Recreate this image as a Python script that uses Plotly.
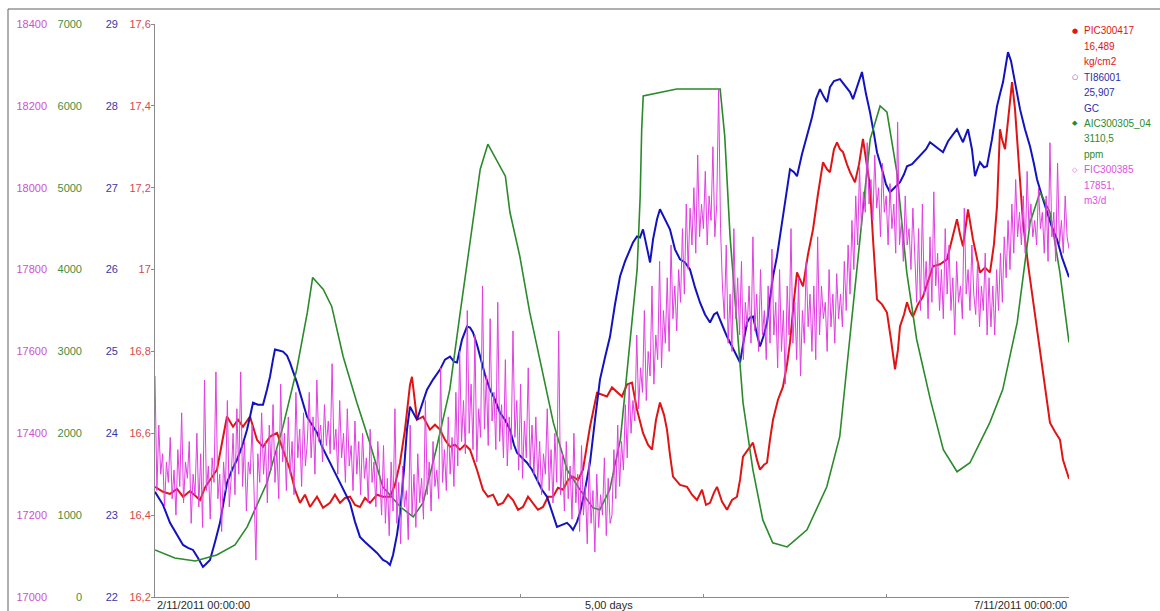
import numpy as np
import pandas as pd
import plotly.graph_objects as go

START = pd.Timestamp("2011-11-02 00:00:00")
END = pd.Timestamp("2011-11-07 00:00:00")

# ---------------- data (hours from 2/11/2011 00:00) ----------------
red_hours = [0, 1.05, 1.97, 2.89, 3.68, 4.6, 5.91, 6.56, 7.22, 8.14,
             8.8, 9.45, 10.24, 10.9, 11.55, 12.47, 13.39, 14.18, 15.1, 16.02,
             16.8, 17.72, 18.38, 19.04, 19.69, 20.35, 21.27, 22.06, 22.98, 23.63,
             24.29, 24.94, 25.6, 26.26, 26.91, 27.57, 28.23, 29.15, 29.93, 30.85,
             31.5, 32.17, 32.82, 33.48, 33.74, 34.4, 35.19, 36.1, 36.76, 37.42,
             38.07, 38.73, 39.39, 40.04, 40.7, 41.36, 42.27, 43.06, 43.72, 44.38,
             45.03, 45.69, 46.35, 47.0, 47.66, 48.31, 48.97, 49.63, 50.28, 50.94,
             51.6, 52.25, 52.91, 53.57, 54.22, 54.88, 55.54, 56.19, 56.72, 57.11,
             58.03, 58.82, 59.34, 60.0, 60.65, 61.31, 61.97, 62.62, 63.28, 64.07,
             64.72, 65.25, 65.78, 66.3, 66.83, 67.22, 67.61, 68.01, 68.93, 69.85,
             70.5, 71.16, 71.82, 72.34, 72.87, 73.39, 73.79, 74.44, 75.1, 75.76,
             76.41, 76.81, 77.2, 77.86, 78.51, 79.04, 79.43, 79.96, 80.35, 80.74,
             81.14, 81.79, 82.45, 82.98, 83.37, 83.9, 84.29, 84.68, 85.08, 85.73,
             86.39, 87.04, 87.7, 88.23, 88.62, 89.14, 89.54, 89.93, 90.33, 90.85,
             91.25, 91.9, 92.43, 92.95, 93.35, 93.87, 94.27, 94.79, 95.45, 96.1,
             96.63, 97.16, 97.55, 97.81, 98.34, 98.73, 99.12, 99.52, 100.17, 100.83,
             101.49, 102.14, 103.06, 103.98, 104.64, 105.29, 105.69, 106.08, 106.48, 106.74,
             107.39, 107.92, 108.31, 108.97, 109.63, 110.15, 110.55, 110.94, 111.2, 111.6,
             112.12, 112.52, 112.91, 113.17, 113.57, 113.96, 114.62, 115.27, 115.93, 116.59,
             117.11, 117.5, 118.16, 118.82, 119.21, 119.61, 120]
red_values = [16.469, 16.457, 16.452, 16.464, 16.445, 16.459, 16.437, 16.467, 16.486, 16.511,
              16.577, 16.641, 16.616, 16.633, 16.616, 16.641, 16.584, 16.567, 16.592, 16.601,
              16.56, 16.511, 16.462, 16.43, 16.45, 16.42, 16.445, 16.418, 16.43, 16.45,
              16.43, 16.442, 16.445, 16.425, 16.42, 16.442, 16.43, 16.45, 16.445, 16.445,
              16.474, 16.528, 16.609, 16.719, 16.738, 16.633, 16.641, 16.609, 16.621, 16.609,
              16.584, 16.567, 16.572, 16.56, 16.572, 16.56, 16.511, 16.462, 16.445, 16.45,
              16.425, 16.43, 16.45, 16.437, 16.413, 16.42, 16.445, 16.43, 16.413, 16.42,
              16.445, 16.445, 16.467, 16.462, 16.486, 16.494, 16.486, 16.511, 16.572, 16.616,
              16.699, 16.694, 16.69, 16.712, 16.702, 16.69, 16.719, 16.724, 16.658, 16.601,
              16.572, 16.56, 16.633, 16.675, 16.645, 16.609, 16.548, 16.494, 16.474, 16.469,
              16.45, 16.437, 16.462, 16.425, 16.43, 16.455, 16.469, 16.433, 16.413, 16.437,
              16.445, 16.486, 16.543, 16.56, 16.577, 16.535, 16.511, 16.523, 16.528, 16.584,
              16.633, 16.682, 16.714, 16.768, 16.822, 16.927, 16.993, 16.976, 16.959, 17.037,
              17.098, 17.184, 17.262, 17.245, 17.238, 17.294, 17.311, 17.294, 17.287, 17.257,
              17.238, 17.213, 17.257, 17.319, 17.27, 17.204, 17.074, 16.927, 16.915, 16.895,
              16.829, 16.756, 16.805, 16.861, 16.89, 16.92, 16.898, 16.885, 16.915, 16.934,
              16.971, 17.008, 17.013, 17.025, 17.074, 17.123, 17.086, 17.057, 17.111, 17.147,
              17.074, 17.03, 16.993, 17.005, 16.993, 17.062, 17.155, 17.343, 17.319, 17.294,
              17.392, 17.458, 17.392, 17.319, 17.221, 17.115, 17.013, 16.927, 16.829, 16.748,
              16.682, 16.626, 16.604, 16.584, 16.535, 16.511, 16.489]

blue_hours = [0, 1.05, 1.97, 2.89, 3.68, 4.33, 4.99, 5.65, 6.3, 6.83,
              7.22, 7.88, 8.53, 9.06, 9.45, 10.11, 10.77, 11.42, 12.08, 12.47,
              12.87, 13.52, 14.18, 14.7, 15.1, 15.49, 15.75, 16.28, 16.8, 17.33,
              17.72, 18.64, 19.3, 19.96, 20.61, 21.27, 21.93, 22.58, 23.37, 24.29,
              24.94, 25.6, 26.26, 26.91, 27.57, 28.23, 29.15, 29.93, 30.46, 30.85,
              31.25, 31.77, 32.17, 32.69, 33.08, 33.48, 34.01, 34.4, 35.05, 35.71,
              36.5, 37.42, 38.07, 38.73, 39.26, 39.65, 40.31, 40.96, 41.36, 41.75,
              42.27, 42.67, 43.32, 43.98, 44.64, 45.29, 45.95, 46.61, 47.13, 47.53,
              48.18, 48.84, 49.5, 50.15, 50.81, 51.47, 52.12, 52.78, 53.44, 54.09,
              54.49, 54.88, 55.4, 55.8, 56.45, 57.11, 57.77, 58.42, 59.08, 59.74,
              60.39, 61.05, 61.71, 62.36, 62.76, 63.28, 63.68, 64.07, 64.59, 65.0,
              65.39, 65.91, 66.3, 66.96, 67.61, 68.27, 68.93, 69.58, 70.24, 70.9,
              71.55, 72.21, 72.87, 73.39, 73.79, 74.44, 75.1, 75.76, 76.41, 76.81,
              77.2, 77.73, 78.12, 78.51, 79.04, 79.43, 79.96, 80.35, 80.74, 81.14,
              81.66, 82.05, 82.71, 83.37, 83.9, 84.29, 84.94, 85.6, 86.26, 86.78,
              87.3, 87.83, 88.23, 88.62, 89.14, 89.93, 90.59, 91.25, 91.64, 92.17,
              92.82, 93.35, 93.87, 94.4, 94.79, 95.45, 95.97, 96.5, 97.16, 97.81,
              98.34, 98.73, 99.39, 100.04, 100.7, 101.23, 101.75, 102.54, 103.46, 104.12,
              104.77, 105.29, 105.69, 106.08, 106.48, 106.74, 107.26, 107.66, 108.05, 108.31,
              108.84, 109.23, 109.89, 110.55, 110.94, 111.34, 111.73, 111.99, 112.39, 112.65,
              113.17, 113.57, 114.22, 114.88, 115.41, 115.8, 116.46, 117.11, 117.77, 118.43,
              119.08, 120]
blue_values = [23.285, 23.126, 22.906, 22.759, 22.636, 22.6, 22.575, 22.477, 22.367, 22.416,
               22.453, 22.673, 22.906, 23.187, 23.395, 23.554, 23.677, 23.836, 24.044, 24.203,
               24.374, 24.35, 24.35, 24.533, 24.692, 24.9, 25.023, 25.011, 24.998, 24.949,
               24.864, 24.619, 24.411, 24.203, 24.105, 24.007, 23.836, 23.713, 23.554, 23.395,
               23.273, 23.15, 22.918, 22.734, 22.673, 22.612, 22.538, 22.453, 22.428, 22.392,
               22.514, 22.759, 23.028, 23.554, 24.044, 24.325, 24.227, 24.166, 24.35, 24.533,
               24.656, 24.778, 24.9, 24.937, 24.876, 24.864, 25.145, 25.304, 25.292, 25.231,
               25.084, 24.937, 24.717, 24.533, 24.411, 24.252, 24.166, 24.044, 23.86, 23.762,
               23.701, 23.64, 23.554, 23.432, 23.31, 23.224, 23.04, 22.857, 22.881, 22.906,
               22.869, 22.82, 22.918, 23.028, 23.309, 23.64, 24.166, 24.656, 24.925, 25.182,
               25.573, 25.916, 26.1, 26.247, 26.332, 26.406, 26.393, 26.491, 26.271, 26.087,
               26.369, 26.614, 26.736, 26.614, 26.491, 26.247, 26.124, 26.087, 26.002, 25.782,
               25.598, 25.451, 25.353, 25.451, 25.476, 25.329, 25.182, 25.06, 24.937, 24.864,
               25.084, 25.353, 25.414, 25.427, 25.206, 25.06, 25.206, 25.353, 25.635, 25.916,
               26.161, 26.406, 26.858, 27.226, 27.189, 27.14, 27.409, 27.63, 27.862, 28.082,
               28.205, 28.107, 28.046, 28.229, 28.303, 28.327, 28.254, 28.168, 28.082, 28.229,
               28.413, 28.144, 27.923, 27.654, 27.434, 27.226, 27.042, 26.944, 27.006, 27.067,
               27.164, 27.262, 27.287, 27.348, 27.409, 27.47, 27.556, 27.495, 27.434, 27.568,
               27.654, 27.715, 27.63, 27.556, 27.654, 27.715, 27.47, 27.14, 27.25, 27.311,
               27.25, 27.262, 27.593, 27.997, 28.144, 28.29, 28.511, 28.657, 28.547, 28.413,
               28.144, 27.96, 27.715, 27.507, 27.287, 27.103, 26.895, 26.699, 26.516, 26.369,
               26.149, 25.907]

green_hours = [0, 2.6, 5.3, 8.1, 10.5, 12.1, 14.7, 16.8, 18.6, 20.0,
               20.7, 22.1, 23.2, 24.7, 26.5, 28.2, 29.9, 32.2, 33.9, 35.2,
               37.0, 38.7, 40.0, 41.4, 42.7, 43.7, 44.6, 46.0, 46.6, 47.0,
               47.9, 49.2, 50.6, 52.3, 54.1, 55.8, 57.5, 58.4, 59.7, 61.1,
               62.0, 63.3, 63.7, 63.9, 64.1, 68.5, 74.2, 74.8, 75.5, 75.9,
               76.4, 77.2, 78.5, 79.8, 81.1, 83.0, 85.6, 88.2, 89.9, 91.2,
               93.0, 93.9, 95.2, 96.1, 97.4, 98.7, 100.0, 101.8, 103.5, 105.3,
               107.0, 109.6, 111.3, 113.2, 114.9, 116.2, 117.5, 118.8, 120]
green_values = [575, 477, 440, 514, 636, 857, 1395, 2081, 2778, 3476,
                3904, 3758, 3550, 2938, 2375, 1885, 1346, 1102, 979, 1151,
                1836, 2534, 3427, 4370, 5226, 5532, 5386, 5141, 4700, 4529,
                4162, 3476, 2864, 2130, 1554, 1310, 1089, 1065, 1310, 1922,
                2778, 4002, 4896, 5716, 6120, 6206, 6206, 5630, 4406, 3917,
                3268, 2375, 1554, 942, 661, 612, 820, 1346, 1958, 3146,
                4774, 5594, 5998, 5924, 5190, 3966, 3146, 2411, 1799, 1530,
                1640, 2130, 2534, 3354, 4578, 4945, 4700, 3966, 3110.5]

magenta_hours = list(np.arange(0, 120.01, 0.25))
magenta_values = [
    17540, 17260, 17420, 17300, 17350, 17220, 17330, 17280, 17390, 17240,
    17310, 17200, 17360, 17270, 17450, 17230, 17330, 17290, 17380, 17180,
    17300, 17250, 17400, 17220, 17350, 17170, 17530, 17260, 17320, 17190,
    17340, 17280, 17550, 17240, 17300, 17160, 17330, 17260, 17480, 17220,
    17290, 17400, 17250, 17460, 17300, 17550, 17270, 17380, 17210, 17330,
    17300, 17420, 17260, 17090, 17350, 17280, 17450, 17300, 17380, 17230,
    17420, 17310, 17470, 17280, 17360, 17240, 17520, 17330, 17400, 17260,
    17440, 17300, 17380, 17250, 17500, 17340, 17410, 17270, 17450, 17320,
    17380, 17500, 17340, 17440, 17300, 17530, 17380, 17420, 17330, 17470,
    17370, 17430, 17350, 17570, 17360, 17410, 17300, 17480, 17340, 17400,
    17280, 17460, 17320, 17370, 17260, 17430, 17300, 17380, 17250, 17400,
    17290, 17340, 17230, 17410, 17280, 17330, 17220, 17380, 17300, 17200,
    17370, 17180, 17290, 17150, 17330, 17210, 17460, 17180, 17280, 17130,
    17320, 17220, 17260, 17140, 17420, 17200, 17300, 17170, 17350, 17230,
    17290, 17190, 17480, 17250, 17330, 17210, 17380, 17270, 17310, 17240,
    17560, 17280, 17360, 17260, 17440, 17300, 17390, 17270, 17500, 17320,
    17600, 17380, 17480, 17350, 17700, 17400, 17520, 17360, 17640, 17330,
    17460, 17390, 17760, 17410, 17540, 17370, 17680, 17430, 17500, 17360,
    17720, 17380, 17470, 17340, 17580, 17320, 17440, 17360, 17650, 17390,
    17480, 17310, 17520, 17290, 17430, 17340, 17560, 17320, 17420, 17300,
    17440, 17280, 17380, 17250, 17350, 17300, 17460, 17260, 17360, 17230,
    17400, 17280, 17650, 17250, 17350, 17210, 17380, 17240, 17320, 17190,
    17400, 17230, 17300, 17160, 17370, 17200, 17270, 17130, 17330, 17180,
    17260, 17110, 17300, 17170, 17250, 17200, 17340, 17150, 17290, 17180,
    17200, 17360, 17240, 17420, 17270, 17380, 17310, 17470, 17340, 17520,
    17400, 17480, 17430, 17640, 17460, 17560, 17500, 17700, 17480, 17600,
    17540, 17760, 17520, 17640, 17580, 17820, 17560, 17700, 17620, 17780,
    17600, 17860, 17680, 17760, 17650, 17800, 17720, 17900, 17740, 17960,
    17800, 17950, 17860, 18000, 17840, 18080, 17880, 17960, 17900, 18040,
    17860, 17980, 17920, 18100, 17880, 17960, 18240, 17900, 17760, 17680,
    17860, 17620, 17740, 17600, 17900, 17680, 17780, 17640, 17820, 17580,
    17720, 17660, 17760, 17620, 17880, 17650, 17740, 17600, 17800, 17640,
    17700, 17580, 17760, 17620, 17850, 17640, 17720, 17560, 17800, 17600,
    17700, 17520, 17760, 17640, 17900, 17620, 17720, 17580, 17780, 17540,
    17700, 17620, 17820, 17660, 17740, 17600, 17760, 17580, 17880, 17640,
    17760, 17680, 17720, 17600, 17800, 17660, 17740, 17620, 17790, 17680,
    17740, 17660, 17820, 17700, 17860, 17740, 17920, 17800, 17980, 17860,
    18050, 17900, 17990, 17940, 18110, 17960, 18020, 17920, 18080, 17950,
    18000, 17880, 18060, 17940, 17980, 17860, 18010, 17900, 17960, 17840,
    18160, 17860, 17920, 17820, 17980, 17860, 17900, 17800, 17950, 17840,
    17720, 17900, 17700, 17960, 17740, 17820, 17680, 17880, 17720, 17990,
    17760, 17840, 17700, 17800, 17680, 17900, 17740, 17860, 17700, 17780,
    17640, 17820, 17720, 17760, 17680, 17950, 17740, 17800, 17700, 17860,
    17740, 17690, 17820, 17660, 17760, 17700, 17840, 17640, 17780, 17660,
    17760, 17640, 17800, 17700, 17840, 17720, 17880, 17780, 17920, 17800,
    17960, 17840, 18020, 17880, 17940, 17860, 17980, 17840, 18040, 17900,
    17960, 17880, 17920, 17860, 18000, 17900, 17940, 17840, 17980, 17820,
    18110, 17880, 17940, 17820, 18060, 17860, 17920, 17840, 17980, 17880,
    17851]

# axis ticks
red_tick_vals = [16.2, 16.4, 16.6, 16.8, 17.0, 17.2, 17.4, 17.6]
red_tick_text = ["16,2", "16,4", "16,6", "16,8", "17", "17,2", "17,4", "17,6"]
blue_tick_vals = [22, 23, 24, 25, 26, 27, 28, 29]
blue_tick_text = ["22", "23", "24", "25", "26", "27", "28", "29"]
green_tick_vals = [0, 1000, 2000, 3000, 4000, 5000, 6000, 7000]
green_tick_text = ["0", "1000", "2000", "3000", "4000", "5000", "6000", "7000"]
magenta_tick_vals = [17000, 17200, 17400, 17600, 17800, 18000, 18200, 18400]
magenta_tick_text = ["17000", "17200", "17400", "17600", "17800", "18000", "18200", "18400"]

# legend text
legend_names = ["PIC300417", "TI86001", "AIC300305_04", "FIC300385"]
legend_values = ["16,489", "25,907", "3110,5", "17851,"]
legend_units = ["kg/cm2", "GC", "ppm", "m3/d"]
legend_symbols = ["●", "○", "◆", "◇"]

x_labels = ["2/11/2011 00:00:00", "5,00 days", "7/11/2011 00:00:00"]

assert len(red_hours) == len(red_values), (len(red_hours), len(red_values))
assert len(blue_hours) == len(blue_values), (len(blue_hours), len(blue_values))
assert len(green_hours) == len(green_values), (len(green_hours), len(green_values))
assert len(magenta_hours) == len(magenta_values), (len(magenta_hours), len(magenta_values))

RED = "#e01414"
BLUE = "#1212c0"
GREEN = "#2b8a2b"
MAGENTA = "#e23ee2"


def to_time(hours):
    return START + pd.to_timedelta(np.asarray(hours, dtype=float), unit="h")


fig = go.Figure()
fig.add_trace(go.Scatter(x=to_time(magenta_hours), y=magenta_values, yaxis="y4", mode="lines",
                         line=dict(color=MAGENTA, width=1), name=legend_names[3]))
fig.add_trace(go.Scatter(x=to_time(green_hours), y=green_values, yaxis="y3", mode="lines",
                         line=dict(color=GREEN, width=1.6), name=legend_names[2]))
fig.add_trace(go.Scatter(x=to_time(blue_hours), y=blue_values, yaxis="y2", mode="lines",
                         line=dict(color=BLUE, width=2), name=legend_names[1]))
fig.add_trace(go.Scatter(x=to_time(red_hours), y=red_values, yaxis="y", mode="lines",
                         line=dict(color=RED, width=2), name=legend_names[0]))

L, R, T, B = 155, 91, 24, 14
W, H = 1160, 611
PW, PH = W - L - R, H - T - B


def px_x(px):
    return (px - L) / PW


def px_y(py):
    return (H - B - py) / PH


tickfont = dict(family="Liberation Sans, Arial, sans-serif", size=11)
common_free = dict(overlaying="y", anchor="free", position=0, side="left", showline=False,
                   ticks="", showgrid=False, zeroline=False, automargin=False)

fig.update_layout(
    width=W, height=H,
    margin=dict(l=L, r=R, t=T, b=B, pad=0),
    paper_bgcolor="white", plot_bgcolor="white",
    showlegend=False,
    font=dict(family="Liberation Sans, Arial, sans-serif", size=11, color="#333"),
    xaxis=dict(range=[START, END], showgrid=False, zeroline=False, showline=True,
               linecolor="#8a8a8a", linewidth=1, ticks="inside", ticklen=3, tickcolor="#8a8a8a",
               tick0=START, dtick=86400000, showticklabels=False, automargin=False),
    yaxis=dict(range=[16.2, 17.6], tickvals=red_tick_vals, ticktext=red_tick_text,
               showline=True, linecolor="#8a8a8a", linewidth=1, ticks="outside", ticklen=3,
               tickcolor="#8a8a8a", showgrid=False, zeroline=False, automargin=False,
               tickfont=dict(tickfont, color="#d44a4a"), ticklabelstandoff=-2),
    yaxis2=dict(common_free, range=[22, 29], tickvals=blue_tick_vals, ticktext=blue_tick_text,
                tickfont=dict(tickfont, color="#3838a8"), ticklabelstandoff=37),
    yaxis3=dict(common_free, range=[0, 7000], tickvals=green_tick_vals, ticktext=green_tick_text,
                tickfont=dict(tickfont, color="#3f8f3f"), ticklabelstandoff=73),
    yaxis4=dict(common_free, range=[17000, 18400], tickvals=magenta_tick_vals,
                ticktext=magenta_tick_text,
                tickfont=dict(tickfont, color="#d050d0"), ticklabelstandoff=108),
)

# outer frame (top & left border of the original picture)
fig.add_shape(type="line", xref="paper", yref="paper", x0=px_x(8), x1=px_x(1165),
              y0=px_y(9), y1=px_y(9), line=dict(color="#606060", width=1))
fig.add_shape(type="line", xref="paper", yref="paper", x0=px_x(8), x1=px_x(8),
              y0=px_y(9), y1=px_y(615), line=dict(color="#606060", width=1))

# bottom time labels
for txt, xp, anchor in zip(x_labels, [0, px_x(609), 1], ["left", "center", "right"]):
    fig.add_annotation(text=txt, xref="paper", yref="paper", x=xp, y=0, xanchor=anchor,
                       yanchor="top", yshift=0, showarrow=False,
                       font=dict(family="Liberation Sans, Arial, sans-serif", size=11, color="#2a2a2a"))

# legend (custom text block at the right)
legend_colors = [RED, "#2d2da8", GREEN, "#e050e0"]
line_step = 15.4
for i in range(4):
    lines = [legend_names[i], legend_values[i], legend_units[i]]
    for j, txt in enumerate(lines):
        ypx = 31 + line_step * (3 * i + j)
        fig.add_annotation(text=txt, xref="paper", yref="paper", x=px_x(1082), y=px_y(ypx),
                           xanchor="left", yanchor="middle", showarrow=False,
                           font=dict(family="Liberation Sans, Arial, sans-serif", size=10,
                                     color=legend_colors[i]))
    fig.add_annotation(text=legend_symbols[i], xref="paper", yref="paper", x=px_x(1075),
                       y=px_y(31 + line_step * 3 * i), xanchor="center", yanchor="middle",
                       showarrow=False,
                       font=dict(family="DejaVu Sans, sans-serif", size=7, color=legend_colors[i]))

fig.write_html("out.html")
